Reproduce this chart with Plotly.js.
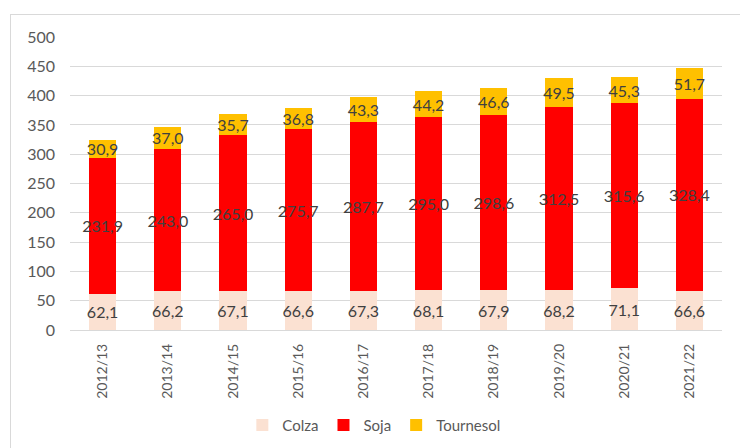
<!DOCTYPE html>
<html>
<head>
<meta charset="utf-8">
<script src="https://cdn.plot.ly/plotly-3.0.1.min.js"></script>
<style>
html,body{margin:0;padding:0;background:#fff;}
#wrap{position:relative;width:740px;height:448px;overflow:hidden;}
#frame{position:absolute;left:10px;top:14px;width:760px;height:460px;border-top:1px solid #d9d9d9;border-left:1px solid #d9d9d9;box-sizing:border-box;pointer-events:none;}
#chart{position:absolute;left:0;top:0;width:740px;height:448px;}
</style>
</head>
<body>
<div id="wrap"><div id="chart"></div><div id="frame"></div></div>
<script>
const categories = ["2012/13","2013/14","2014/15","2015/16","2016/17","2017/18","2018/19","2019/20","2020/21","2021/22"];
const colza = [62.1,66.2,67.1,66.6,67.3,68.1,67.9,68.2,71.1,66.6];
const soja = [231.9,243.0,265.0,275.7,287.7,295.0,298.6,312.5,315.6,328.4];
const tournesol = [30.9,37.0,35.7,36.8,43.3,44.2,46.6,49.5,45.3,51.7];
const seriesNames = ["Colza","Soja","Tournesol"];
const seriesColors = ["#FBE1D2","#FF0000","#FFC000"];
const yTicks = [0,50,100,150,200,250,300,350,400,450,500];

const fmt = v => v.toFixed(1).replace('.', ',');
const FONT = "Lato, 'Open Sans', sans-serif";

const mk = (name, vals, color) => ({
  type: 'bar',
  name: name,
  x: categories,
  y: vals,
  marker: {color: color},
  text: vals.map(fmt),
  textposition: 'inside',
  insidetextanchor: 'middle',
  constraintext: 'none',
  textangle: 0,
  textfont: {family: FONT, size: 16, color: '#404040'},
  hoverinfo: 'skip'
});

const data = [
  mk(seriesNames[0], colza, seriesColors[0]),
  mk(seriesNames[1], soja, seriesColors[1]),
  mk(seriesNames[2], tournesol, seriesColors[2])
];

const layout = {
  width: 740, height: 448,
  margin: {l: 70, r: 18, t: 37, b: 118},
  barmode: 'stack',
  bargap: 0.585,
  paper_bgcolor: '#fff',
  plot_bgcolor: '#fff',
  font: {family: FONT, color: '#595959'},
  showlegend: true,
  legend: {
    orientation: 'h', x: 0.466, xanchor: 'center',
    yref: 'container', y: 0.051, yanchor: 'middle',
    font: {family: FONT, size: 15, color: '#595959'},
    itemwidth: 30, traceorder: 'normal'
  },
  xaxis: {
    type: 'category',
    tickangle: -90,
    tickfont: {family: FONT, size: 14, color: '#595959'},
    showgrid: false, zeroline: false, showline: false,
    ticks: '', ticklabelstandoff: 10, automargin: false
  },
  yaxis: {
    range: [0, 500],
    tickvals: yTicks,
    tickfont: {family: FONT, size: 16, color: '#595959'},
    gridcolor: '#d9d9d9', gridwidth: 1,
    zeroline: true, zerolinecolor: '#d9d9d9', zerolinewidth: 1,
    showline: false, ticks: '', ticklabelstandoff: 14, automargin: false
  }
};

Plotly.newPlot('chart', data, layout, {staticPlot: true, displayModeBar: false});
</script>
</body>
</html>
